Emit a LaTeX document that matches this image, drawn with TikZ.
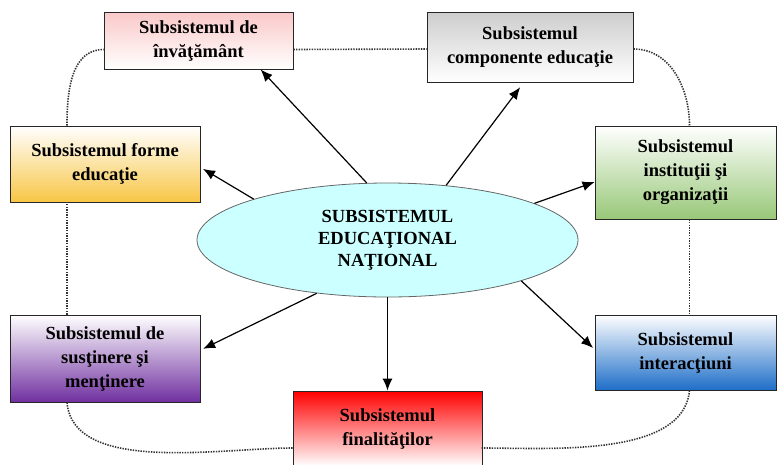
\documentclass[tikz,border=0pt]{standalone}
\usepackage{fontspec}
\setmainfont{Liberation Serif}
\usetikzlibrary{shapes.geometric,arrows.meta,calc}

\definecolor{pinktop}{RGB}{250,200,200}
\definecolor{graytop}{RGB}{205,205,205}
\definecolor{yellowbot}{RGB}{248,198,70}
\definecolor{greenbot}{RGB}{152,200,120}
\definecolor{purplebot}{RGB}{112,48,160}
\definecolor{bluebot}{RGB}{30,110,200}
\definecolor{redtop}{RGB}{255,0,0}
\definecolor{cyanfill}{RGB}{204,255,255}

\begin{document}
\begin{tikzpicture}[x=1pt, y=-1pt, >={Latex[length=12pt,width=10pt]}]
				\tikzstyle{every node}=[inner sep=1pt, align=center, font=\bfseries\fontsize{18.5}{24}\selectfont, text=black]
				\tikzstyle{box}=[draw=black!85, line width=0.9pt]
				\tikzstyle{frame}=[draw=black!80, line width=1.6pt, dash pattern=on 1.4pt off 1.2pt]
				\tikzstyle{arr}=[->, line width=1.2pt]
				\useasboundingbox (0,0) rectangle (777,464);
				% the seven subsystems
				\node[box, minimum width=189pt, minimum height=57pt, top color=pinktop, bottom color=white] (inv) at (198.5,40.5) {Subsistemul de\\învăţământ};
				\node[box, minimum width=206pt, minimum height=70pt, top color=graytop, bottom color=white] (comp) at (530,47) {Subsistemul\\componente educaţie};
				\node[box, minimum width=190pt, minimum height=76pt, top color=white, bottom color=yellowbot] (forme) at (105,164) {Subsistemul forme\\educaţie};
				\node[box, minimum width=181pt, minimum height=93pt, top color=white, bottom color=greenbot] (inst) at (685.5,172.5) {Subsistemul\\instituţii şi\\organizaţii};
				\node[box, minimum width=190pt, minimum height=87pt, top color=white, bottom color=purplebot] (sust) at (105,358.5) {Subsistemul de\\susţinere şi\\menţinere};
				\node[box, minimum width=181pt, minimum height=75pt, top color=white, bottom color=bluebot] (inter) at (685.5,352.5) {Subsistemul\\interacţiuni};
				\node[box, minimum width=189pt, minimum height=75pt, top color=redtop, bottom color=white] (fin) at (387.5,428.5) {Subsistemul\\finalităţilor};
				% centre
				\node[ellipse, draw=black!60, line width=0.8pt, fill=cyanfill, minimum width=381pt, minimum height=114pt, inner sep=0pt, font=\bfseries\fontsize{18.5}{22}\selectfont] (sen) at (387.5,240) {SUBSISTEMUL\\EDUCAŢIONAL\\NAŢIONAL};
				% dotted ring
				\draw[frame] ($(inv.east)+(0,9)$) -- ($(comp.west)+(0,2)$);
				\draw[frame] ($(comp.east)+(0,2)$) to[out=0, in=90] ($(inst.north)+(4,0)$);
				\draw[frame] ($(inst.south)+(4,0)$) -- ($(inter.north)+(4,0)$);
				\draw[frame] ($(inter.south)+(4,0)$) to[out=-95, in=0, looseness=0.8] ($(fin.west)+(189,19.5)$);
				\draw[frame] ($(fin.west)+(0,19.5)$) to[out=180, in=-85, looseness=0.8] ($(sust.south)+(-38,0)$);
				\draw[frame] ($(sust.north)+(-38,0)$) -- ($(forme.south)+(-38,0)$);
				\draw[frame] ($(forme.north)+(-38,0)$) to[out=90, in=180] ($(inv.west)+(0,9)$);
				% arrows
				\draw[arr] (sen.110) -- (inv.-25);
				\draw[arr, shorten >=6pt] (sen.43) -- (comp.-100);
				\draw[arr, shorten >=3pt] (sen.163) -- (forme.-2);
				\draw[arr] (sen.14) -- (inst.186);
				\draw[arr, shorten >=3pt] (sen.-143) -- (sust.5);
				\draw[arr, shorten >=2pt] (sen.-17) -- (inter.178);
				\draw[arr] (sen.south) -- (fin.north);
		\end{tikzpicture}
\end{document}
